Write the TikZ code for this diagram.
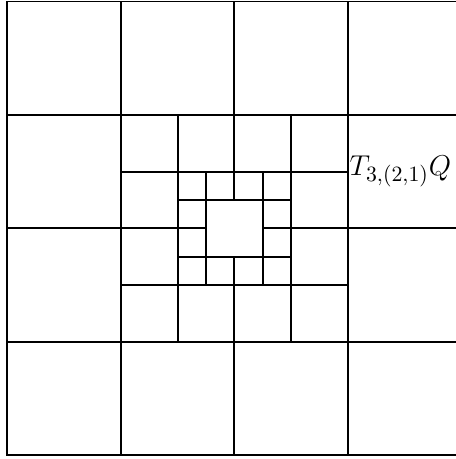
\documentclass[tikz,border=0pt]{standalone}
\usepackage{tikz}

\begin{document}
\begin{tikzpicture}[
  x=0.5cm, y=0.5cm,
  grid/.style={line width=1pt, black},
  lbl/.style={anchor=west, inner sep=0.8pt, font=\fontsize{15.5}{18}\selectfont}
]
\useasboundingbox (-0.264,-0.14) rectangle (15.806,16.053);
% outer 4x4 squares, middle lines broken round the centre
\draw[grid] (0,0) rectangle (16,16);
\foreach \t in {4,12} {
  \draw[grid] (\t,0) -- (\t,16);
  \draw[grid] (0,\t) -- (16,\t);
}
\draw[grid] (8,0) -- (8,7) (8,9) -- (8,16);
\draw[grid] (0,8) -- (7,8) (9,8) -- (16,8);
% second level
\foreach \t in {6,10} {
  \draw[grid] (\t,4) -- (\t,12);
  \draw[grid] (4,\t) -- (12,\t);
}
% third level
\foreach \t in {7,9} {
  \draw[grid] (\t,6) -- (\t,10);
  \draw[grid] (6,\t) -- (10,\t);
}
\node[lbl] (tq) at (12,10) {$T_{3,(2,1)}Q$};
\end{tikzpicture}
\end{document}
